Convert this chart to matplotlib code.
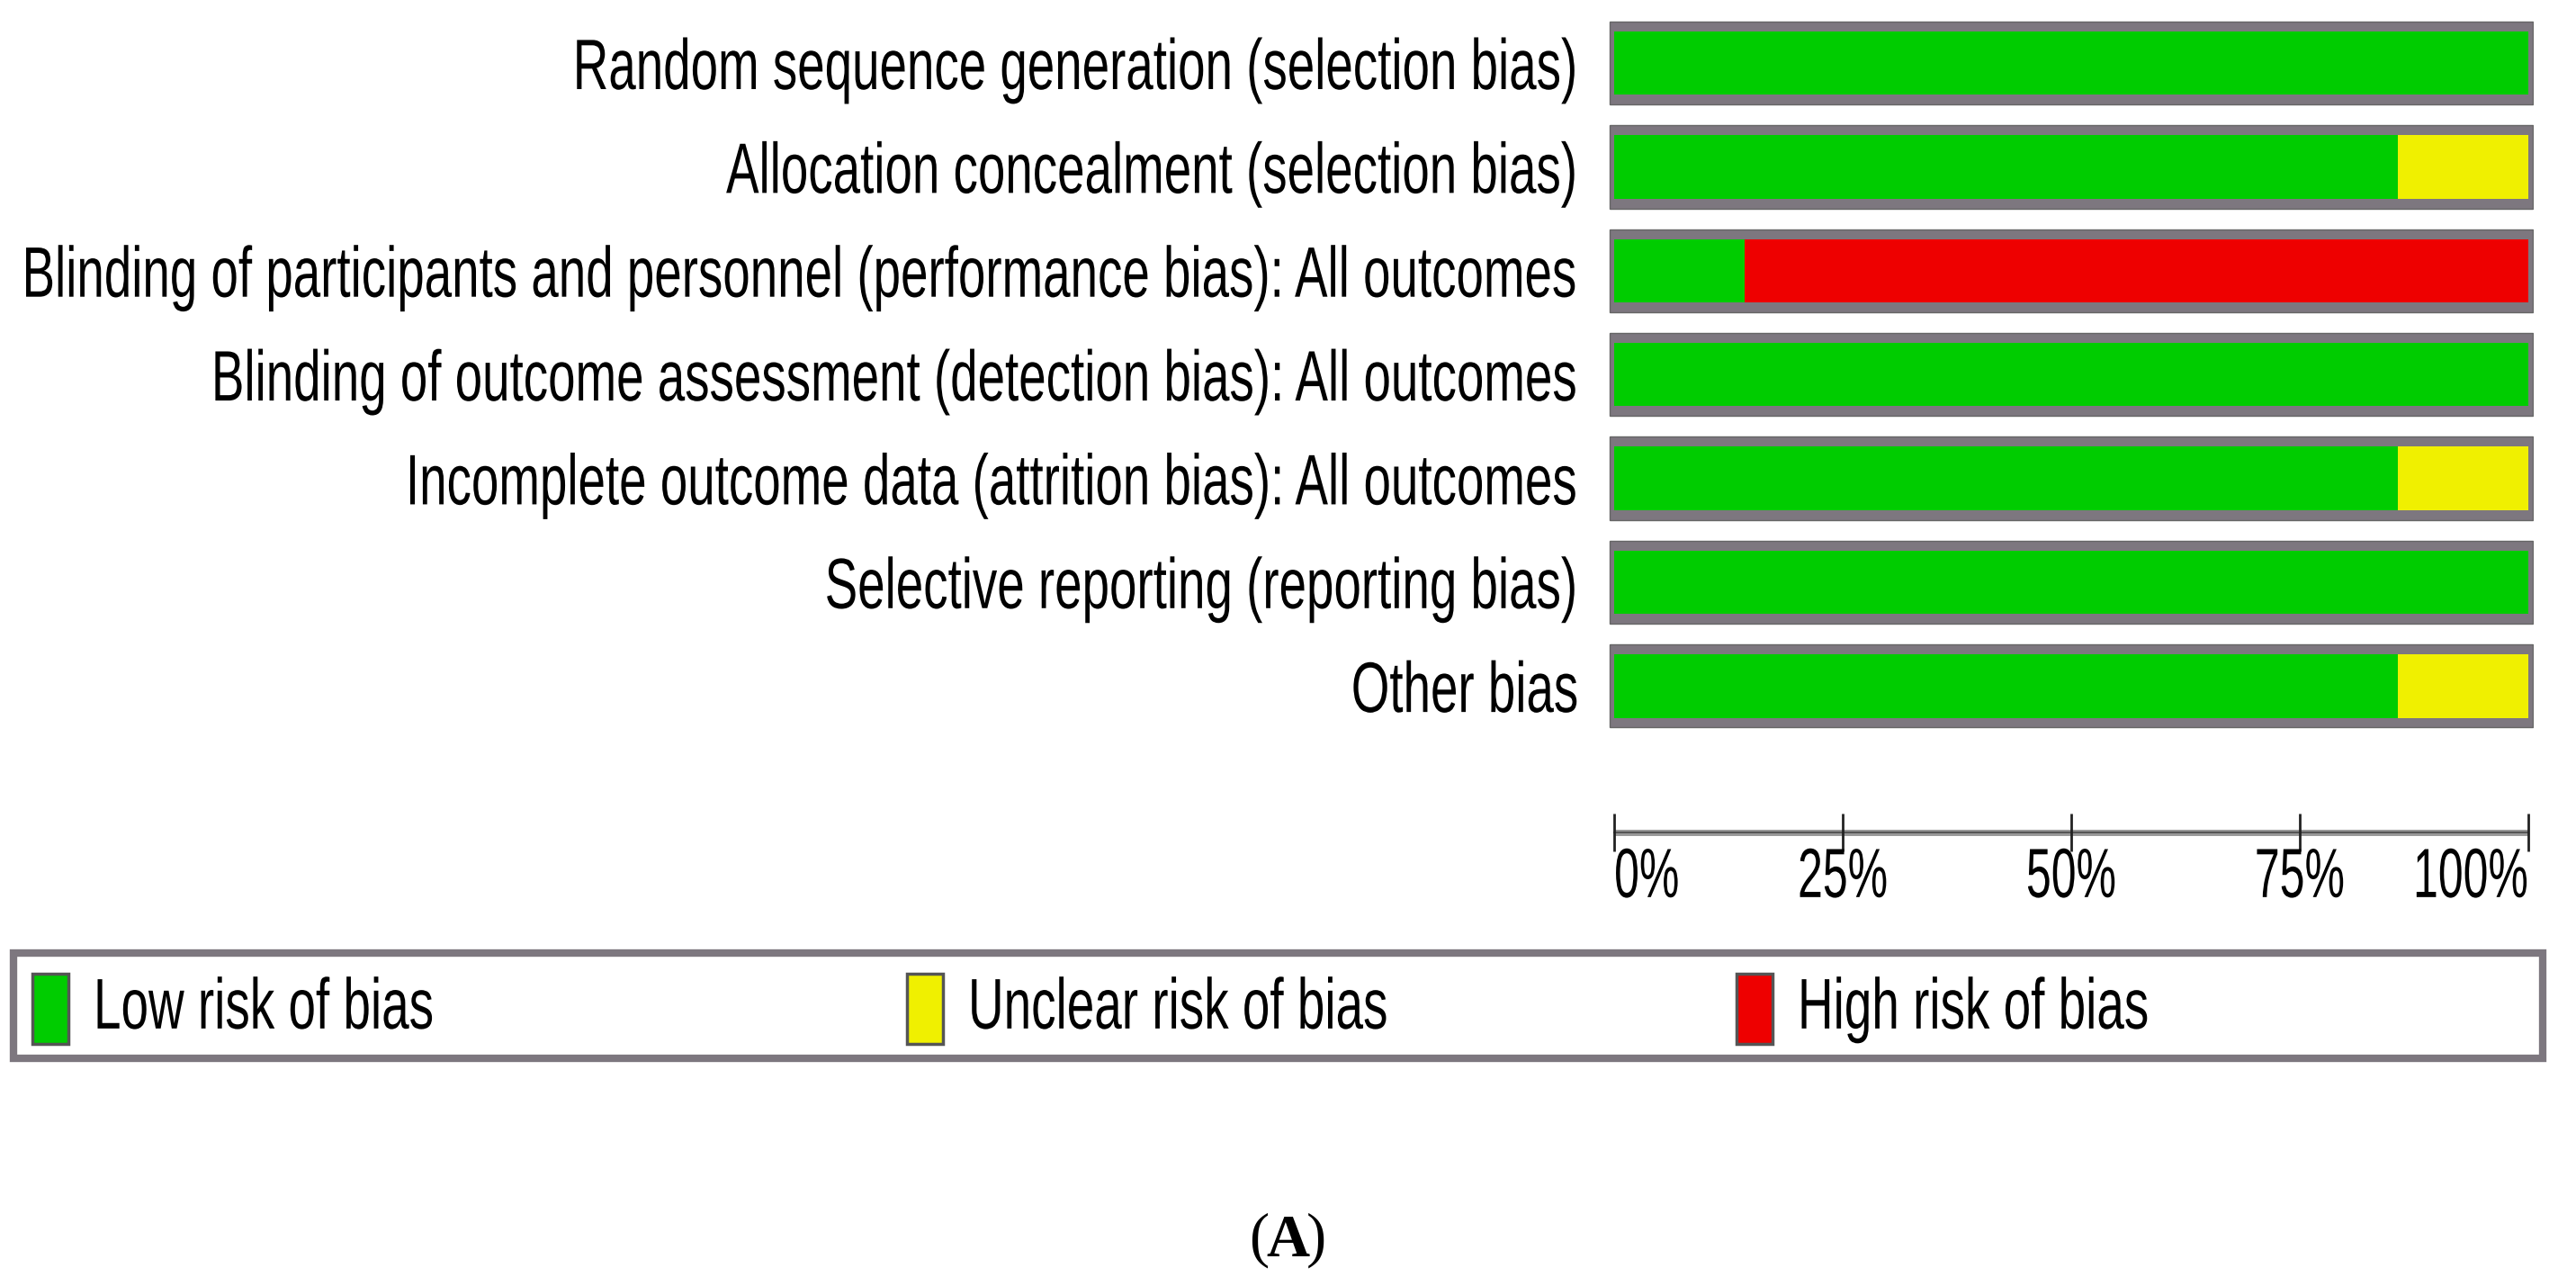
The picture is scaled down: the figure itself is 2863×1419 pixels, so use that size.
import numpy as np
import matplotlib.pyplot as plt
from matplotlib.patches import Rectangle
from matplotlib.patheffects import AbstractPathEffect
from matplotlib.transforms import Affine2D

plt.rcParams['font.family'] = ['Liberation Sans', 'DejaVu Sans']

# risk of bias summary (% of studies, 7 studies)
domains = ["Random sequence generation (selection bias)",
           "Allocation concealment (selection bias)",
           "Blinding of participants and personnel (performance bias): All outcomes",
           "Blinding of outcome assessment (detection bias): All outcomes",
           "Incomplete outcome data (attrition bias): All outcomes",
           "Selective reporting (reporting bias)",
           "Other bias"]
low = [100, 85.7, 14.3, 100, 85.7, 100, 85.7]
unclear = [0, 14.3, 0, 0, 14.3, 0, 14.3]
high = [0, 0, 85.7, 0, 0, 0, 0]
ticks = [0, 25, 50, 75, 100]
tick_labels = ["0%", "25%", "50%", "75%", "100%"]
legend_labels = ["Low risk of bias", "Unclear risk of bias", "High risk of bias"]

c_low = '#00cc00'
c_unc = '#f0f000'
c_high = '#ee0000'
c_gray = '#7d777f'


class Tall(AbstractPathEffect):
    """stretch glyphs vertically around mid cap height (the original font is condensed)"""
    def __init__(self, sy=1.45):
        super().__init__()
        self.sy = sy

    def draw_path(self, renderer, gc, tpath, affine, rgbFace=None):
        m = affine.get_matrix()
        cy = m[1, 2] + 35.8 * m[1, 1]
        new = affine + Affine2D().translate(0, -cy).scale(1, self.sy).translate(0, cy)
        renderer.draw_path(gc, tpath, new, rgbFace)


tall = [Tall(1.45)]

W, H = 2863, 1419
fig = plt.figure(figsize=(W/100, H/100), dpi=100)

x0, x1 = 1788, 2816
ax = fig.add_axes([x0/W, 1-820/H, (x1-x0)/W, 807.5/H])
y = np.arange(len(domains))
ax.barh(y, 101.0, left=-0.5, height=0.80, color=c_gray, ec='#666666', lw=1)
ax.barh(y, low, height=0.61, color=c_low)
ax.barh(y, unclear, left=low, height=0.61, color=c_unc)
left_high = np.array(low) + np.array(unclear)
ax.barh(y, high, left=left_high, height=0.61, color=c_high)
ax.set_xlim(-0.6, 100.6)
ax.set_ylim(len(domains)-0.5, -0.5)
ax.set_yticks(y, domains, fontsize=39.4)
ax.tick_params(axis='y', length=0, pad=24)
for lab in ax.get_yticklabels():
    lab.set_path_effects(tall)
ax.set_xticks([])
for s in ax.spines.values():
    s.set_visible(False)

# percentage scale
ax2 = fig.add_axes([x0/W, 1-1030/H, (x1-x0)/W, 140/H])
ax2.set_xlim(-0.6, 100.6)
ax2.set_ylim(-1, 1)
ax2.axis('off')
ax2.plot([0, 100], [0.5, 0.5], color='#999999', lw=5, solid_capstyle='butt')
ax2.plot([0, 100], [0.5, 0.5], color='#555555', lw=1.5)
ax2.vlines(ticks, 0.2, 0.8, color='#222222', lw=2)
for t, lab in zip(ticks, tick_labels):
    ha = 'left' if t == 0 else ('right' if t == 100 else 'center')
    ax2.text(t, -0.2, lab, ha=ha, va='center', fontsize=36, path_effects=[Tall(1.55)])

# legend box
lx0, lx1, ly0, ly1 = 15, 2826, 1059, 1176
lax = fig.add_axes([0, 0, 1, 1])
lax.set_xlim(0, W)
lax.set_ylim(H, 0)
lax.axis('off')
lax.add_patch(Rectangle((lx0, ly0), lx1-lx0, ly1-ly0, fill=False, ec=c_gray, lw=6))
patch_x = [36, 1008, 1930]
for px, col, lab in zip(patch_x, [c_low, c_unc, c_high], legend_labels):
    lax.add_patch(Rectangle((px, 1082), 40, 78, fc=col, ec='#555555', lw=2.5))
    lax.text(px + 68, 1120, lab, ha='left', va='center', fontsize=39.5, path_effects=tall)

# panel label
lax.text(1431, 1380, "A", ha='center', va='center', fontsize=48,
         family='Liberation Serif', weight='bold')
lax.text(1410, 1378, "(", ha='right', va='center', fontsize=48, family='Liberation Serif')
lax.text(1452, 1378, ")", ha='left', va='center', fontsize=48, family='Liberation Serif')

fig.savefig('out.png', dpi=100, facecolor='white')
